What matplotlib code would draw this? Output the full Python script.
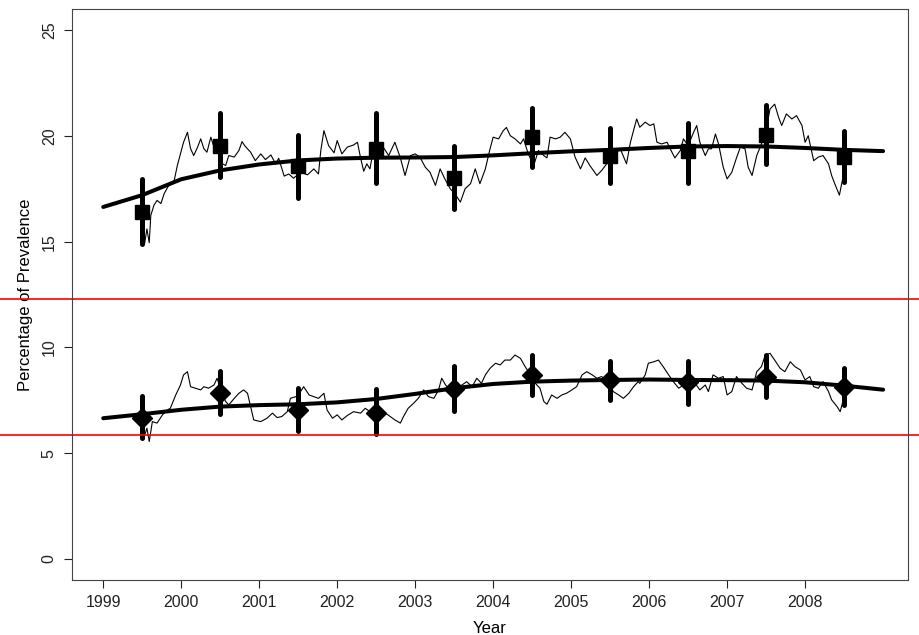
# Prevalence over time: daily trace, yearly estimates with intervals, smooth trend

import matplotlib
matplotlib.use("Agg")
import matplotlib.pyplot as plt

plt.rcParams['font.family'] = ['Liberation Sans', 'DejaVu Sans']

# yearly estimates (mid-year) with interval ends
est_year = [1999.5, 2000.5, 2001.5, 2002.5, 2003.5, 2004.5, 2005.5, 2006.5, 2007.5, 2008.5]
upper_est = [16.4, 19.54, 18.57, 19.39, 18.0, 19.94, 19.04, 19.28, 20.02, 19.02]
upper_lo = [14.9, 18.05, 17.06, 17.78, 16.56, 18.52, 17.77, 17.77, 18.65, 17.82]
upper_hi = [17.94, 21.08, 20.06, 21.08, 19.54, 21.3, 20.38, 20.6, 21.46, 20.25]
lower_est = [6.65, 7.83, 7.04, 6.89, 8.03, 8.69, 8.46, 8.38, 8.62, 8.15]
lower_lo = [5.7, 6.84, 6.05, 5.9, 6.97, 7.75, 7.51, 7.31, 7.67, 7.28]
lower_hi = [7.7, 8.9, 8.07, 8.02, 9.12, 9.64, 9.37, 9.37, 9.64, 9.04]

# smooth trend
trend_year = [1999, 1999.5, 2000, 2000.5, 2001, 2001.5, 2002, 2002.5, 2003, 2003.5, 2004,
              2004.5, 2005, 2005.5, 2006, 2006.5, 2007, 2007.5, 2008, 2008.5, 2009]
upper_trend = [16.64, 17.2, 17.95, 18.37, 18.65, 18.84, 18.93, 18.97, 18.98, 19.0, 19.08,
               19.18, 19.27, 19.34, 19.43, 19.5, 19.52, 19.5, 19.43, 19.34, 19.28]
lower_trend = [6.65, 6.84, 7.05, 7.2, 7.27, 7.31, 7.4, 7.56, 7.8, 8.07, 8.27,
               8.38, 8.43, 8.46, 8.48, 8.46, 8.45, 8.43, 8.35, 8.19, 8.0]

# daily trace
upper_day = [1999.50, 1999.53, 1999.56, 1999.59, 1999.61, 1999.65, 1999.69, 1999.74, 1999.78, 1999.84,
             1999.91, 1999.95, 1999.99, 2000.03, 2000.08, 2000.12, 2000.16, 2000.21, 2000.25, 2000.29,
             2000.33, 2000.38, 2000.42, 2000.48, 2000.53, 2000.57, 2000.61, 2000.68, 2000.74, 2000.78,
             2000.82, 2000.89, 2000.95, 2001.02, 2001.08, 2001.15, 2001.21, 2001.25, 2001.32, 2001.38,
             2001.44, 2001.53, 2001.62, 2001.70, 2001.76, 2001.79, 2001.83, 2001.89, 2001.96, 2002.00,
             2002.06, 2002.13, 2002.21, 2002.26, 2002.30, 2002.34, 2002.38, 2002.42, 2002.47, 2002.51,
             2002.59, 2002.66, 2002.74, 2002.81, 2002.87, 2002.94, 2003.00, 2003.06, 2003.13, 2003.19,
             2003.26, 2003.32, 2003.38, 2003.45, 2003.51, 2003.58, 2003.64, 2003.71, 2003.77, 2003.83,
             2003.90, 2003.96, 2004.00, 2004.07, 2004.13, 2004.17, 2004.22, 2004.28, 2004.35, 2004.39,
             2004.45, 2004.52, 2004.58, 2004.65, 2004.69, 2004.73, 2004.80, 2004.86, 2004.92, 2004.99,
             2005.05, 2005.12, 2005.18, 2005.24, 2005.33, 2005.39, 2005.44, 2005.54, 2005.63, 2005.71,
             2005.76, 2005.84, 2005.88, 2005.95, 2006.01, 2006.06, 2006.10, 2006.16, 2006.23, 2006.27,
             2006.33, 2006.40, 2006.44, 2006.50, 2006.57, 2006.61, 2006.65, 2006.72, 2006.76, 2006.80,
             2006.85, 2006.89, 2006.95, 2007.00, 2007.06, 2007.12, 2007.17, 2007.23, 2007.27, 2007.32,
             2007.38, 2007.44, 2007.51, 2007.55, 2007.61, 2007.66, 2007.70, 2007.76, 2007.83, 2007.89,
             2007.96, 2008.00, 2008.04, 2008.11, 2008.17, 2008.23, 2008.30, 2008.34, 2008.38, 2008.44,
             2008.49, 2008.53]
upper_pct = [15.93, 14.9, 15.6, 14.95, 16.24, 16.72, 16.95, 16.8, 17.26, 17.66,
             17.89, 18.6, 19.15, 19.7, 20.17, 19.4, 19.07, 19.47, 19.86, 19.4,
             19.23, 19.94, 19.47, 19.62, 18.68, 18.6, 19.07, 19.0, 19.31, 19.73,
             19.51, 19.23, 18.83, 19.15, 18.88, 19.1, 18.68, 18.94, 18.1, 18.2,
             18.0, 18.28, 18.16, 18.44, 18.2, 19.31, 20.25, 19.54, 19.2, 19.78,
             19.15, 19.47, 19.57, 19.7, 18.96, 18.33, 18.68, 18.44, 19.47, 19.07,
             19.47, 19.07, 19.7, 18.96, 18.13, 19.07, 19.15, 19.0, 18.52, 18.28,
             17.66, 18.44, 17.97, 17.5, 17.26, 16.87, 17.5, 17.74, 18.44, 17.74,
             18.44, 19.39, 19.94, 19.86, 20.25, 20.4, 20.01, 19.86, 19.62, 19.86,
             19.15, 18.6, 19.31, 19.07, 18.96, 19.94, 19.86, 19.94, 20.17, 19.86,
             19.0, 18.44, 18.96, 18.6, 18.13, 18.36, 18.6, 19.07, 19.39, 18.68,
             19.7, 20.8, 20.41, 20.65, 20.49, 20.57, 19.7, 19.62, 19.7, 19.39,
             18.96, 19.31, 19.86, 19.54, 20.17, 20.49, 19.7, 19.07, 19.39, 19.39,
             20.09, 19.62, 18.52, 17.97, 18.28, 18.96, 19.47, 19.39, 18.52, 18.13,
             19.07, 19.62, 20.49, 21.27, 21.5, 20.88, 20.49, 21.04, 20.8, 20.96,
             20.49, 19.7, 20.01, 18.83, 19.0, 19.07, 18.68, 18.13, 17.74, 17.2,
             18.13, 19.0]

lower_day = [1999.50, 1999.52, 1999.56, 1999.59, 1999.63, 1999.69, 1999.76, 1999.82, 1999.86, 1999.93,
             1999.99, 2000.03, 2000.08, 2000.12, 2000.18, 2000.25, 2000.29, 2000.35, 2000.42, 2000.46,
             2000.53, 2000.57, 2000.61, 2000.68, 2000.74, 2000.80, 2000.85, 2000.89, 2000.93, 2001.02,
             2001.10, 2001.17, 2001.23, 2001.29, 2001.36, 2001.40, 2001.47, 2001.53, 2001.57, 2001.64,
             2001.70, 2001.76, 2001.83, 2001.87, 2001.94, 2002.00, 2002.06, 2002.13, 2002.21, 2002.30,
             2002.36, 2002.42, 2002.49, 2002.55, 2002.62, 2002.68, 2002.74, 2002.81, 2002.85, 2002.91,
             2002.98, 2003.04, 2003.11, 2003.17, 2003.24, 2003.30, 2003.34, 2003.39, 2003.45, 2003.53,
             2003.60, 2003.66, 2003.73, 2003.79, 2003.85, 2003.90, 2003.96, 2004.03, 2004.09, 2004.15,
             2004.22, 2004.28, 2004.35, 2004.41, 2004.48, 2004.54, 2004.60, 2004.65, 2004.69, 2004.75,
             2004.82, 2004.88, 2004.94, 2005.01, 2005.07, 2005.14, 2005.20, 2005.27, 2005.33, 2005.39,
             2005.48, 2005.54, 2005.61, 2005.67, 2005.74, 2005.80, 2005.86, 2005.88, 2005.95, 2005.99,
             2006.06, 2006.12, 2006.18, 2006.25, 2006.31, 2006.38, 2006.44, 2006.50, 2006.59, 2006.65,
             2006.72, 2006.76, 2006.82, 2006.89, 2006.95, 2007.00, 2007.06, 2007.12, 2007.19, 2007.25,
             2007.32, 2007.38, 2007.44, 2007.49, 2007.55, 2007.61, 2007.68, 2007.74, 2007.81, 2007.87,
             2007.94, 2008.00, 2008.06, 2008.11, 2008.17, 2008.23, 2008.30, 2008.34, 2008.41, 2008.45,
             2008.49, 2008.53]
lower_pct = [6.34, 5.71, 6.18, 5.55, 6.49, 6.42, 6.81, 7.04, 7.12, 7.75,
             8.22, 8.7, 8.85, 8.14, 8.07, 7.99, 8.14, 8.07, 8.22, 8.54,
             7.75, 7.44, 7.28, 7.59, 7.83, 7.99, 7.83, 7.2, 6.57, 6.49,
             6.65, 6.89, 6.68, 6.73, 6.96, 7.59, 7.67, 7.91, 8.14, 7.75,
             7.67, 7.59, 7.83, 7.04, 6.65, 6.81, 6.57, 6.78, 6.96, 6.89,
             7.12, 6.96, 7.2, 6.89, 6.89, 6.73, 6.57, 6.42, 6.73, 7.12,
             7.36, 7.59, 7.99, 7.67, 7.59, 7.99, 8.54, 8.22, 7.99, 8.07,
             8.22, 8.38, 8.14, 8.54, 8.3, 8.7, 9.01, 9.25, 9.17, 9.4,
             9.4, 9.64, 9.48, 9.09, 8.7, 8.3, 8.07, 7.44, 7.31, 7.75,
             7.59, 7.75, 7.83, 7.99, 8.14, 8.7, 8.85, 8.7, 8.54, 8.62,
             8.38, 7.91, 7.75, 7.59, 7.83, 8.14, 8.38, 8.3, 8.7, 9.25,
             9.32, 9.4, 9.09, 8.7, 8.38, 8.07, 8.22, 8.38, 8.3, 7.99,
             8.22, 7.91, 8.7, 8.54, 8.62, 7.75, 7.91, 8.62, 8.3, 8.07,
             7.99, 8.85, 9.09, 9.64, 9.72, 9.4, 9.01, 8.85, 9.32, 9.09,
             8.93, 8.46, 8.62, 8.14, 8.07, 8.38, 7.91, 7.52, 7.2, 6.96,
             7.52, 8.14]

# reference levels
ref_levels = [12.31, 5.85]

year_ticks = list(range(1999, 2009))
pct_ticks = [0, 5, 10, 15, 20, 25]

fig = plt.figure(figsize=(9.2, 6.35), dpi=100)
ax = fig.add_axes([0.0783, 0.0866, 0.9087, 0.8992])

ax.plot(upper_day, upper_pct, color='black', lw=0.8)
ax.plot(lower_day, lower_pct, color='black', lw=0.8)

ax.plot(trend_year, upper_trend, color='black', lw=2.9, solid_capstyle='round')
ax.plot(trend_year, lower_trend, color='black', lw=2.9, solid_capstyle='round')

vl = ax.vlines(est_year, upper_lo, upper_hi, color='black', lw=3.6)
vl.set_capstyle('round')
vl = ax.vlines(est_year, lower_lo, lower_hi, color='black', lw=3.6)
vl.set_capstyle('round')
ax.plot(est_year, upper_est, 's', color='black', ms=9.5)
ax.plot(est_year, lower_est, 'D', color='black', ms=10.5)

for lev in ref_levels:
    ax.axhline(lev, xmin=-0.1, xmax=1.1, color='red', lw=1.2, clip_on=False)

ax.set_xlim(1998.6, 2009.32)
ax.set_ylim(-1, 26)
ax.set_xticks(year_ticks)
ax.set_yticks(pct_ticks)
ax.set_yticklabels([str(v) for v in pct_ticks], rotation=90, va='center')
ax.tick_params(direction='out', length=6, width=0.8, labelsize=11.5, pad=5, colors='#222222')
for s in ax.spines.values():
    s.set_color('#444444')
    s.set_linewidth(0.8)

ax.set_xlabel('Year', fontsize=12, labelpad=8)
ax.set_ylabel('Percentage of Prevalence', fontsize=12, labelpad=6)

fig.savefig('out.png', dpi=100)
